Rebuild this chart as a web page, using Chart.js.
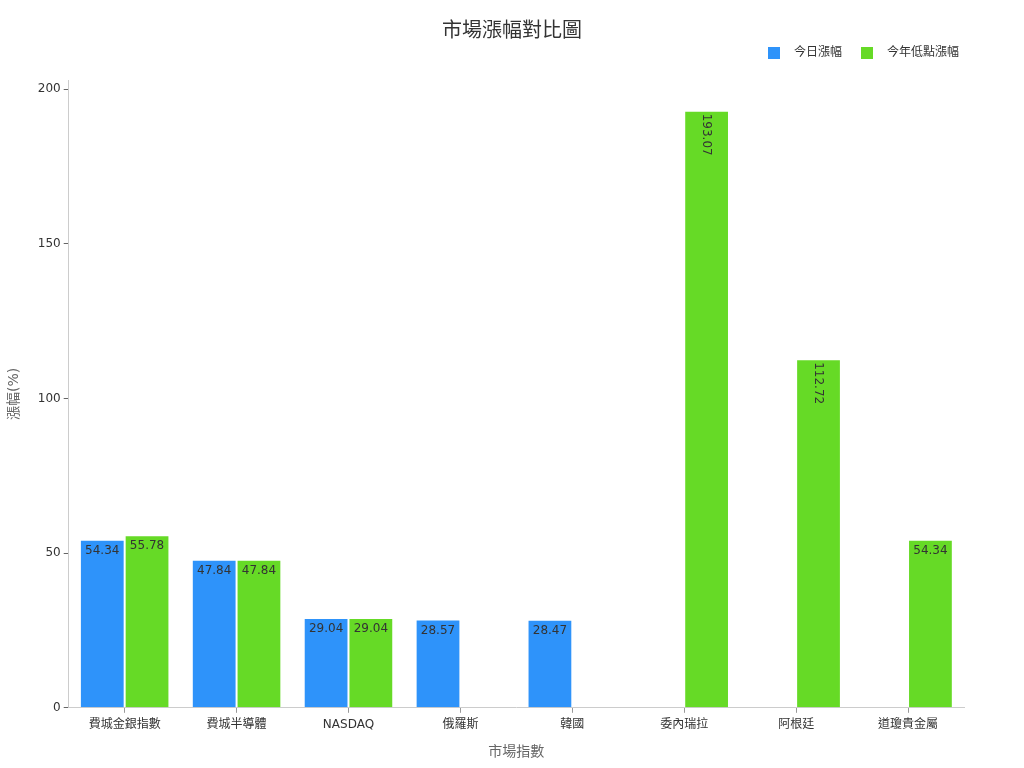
<!DOCTYPE html>
<html>
<head>
<meta charset="utf-8">
<script src="https://cdn.jsdelivr.net/npm/chart.js@4.4.1/dist/chart.umd.min.js"></script>
<style>
  html, body { margin: 0; padding: 0; background: #fff; }
  #wrap { width: 1024px; height: 768px; }
</style>
</head>
<body>
<div id="wrap"><canvas id="myChart" width="1024" height="768"></canvas></div>
<script>
const categories = ["費城金銀指數", "費城半導體", "NASDAQ", "俄羅斯", "韓國", "委內瑞拉", "阿根廷", "道瓊貴金屬"];
const todayGain = [54.34, 47.84, 29.04, 28.57, 28.47, null, null, null];
const yearLowGain = [55.78, 47.84, 29.04, null, null, 193.07, 112.72, 54.34];
const yTicks = [0, 50, 100, 150, 200];
const rotatedLabels = [193.07, 112.72];

const FONT = "'DejaVu Sans', 'Noto Sans CJK TC', sans-serif";

// title centred on the page + legend at top right
const header = {
  id: "header",
  afterDraw(chart) {
    const c = chart.ctx;
    c.save();
    c.fillStyle = "#333";
    c.font = "20px " + FONT;
    c.textAlign = "center";
    c.textBaseline = "middle";
    c.fillText("市場漲幅對比圖", chart.width / 2, 32);

    c.font = "12px " + FONT;
    c.textAlign = "left";
    const xs = [768, 861];
    chart.data.datasets.forEach((ds, i) => {
      c.fillStyle = ds.backgroundColor;
      c.fillRect(xs[i], 47, 12, 12);
      c.fillStyle = "#333";
      c.fillText(ds.label, xs[i] + 26, 53);
    });
    c.restore();
  },
};

// labels drawn inside the top of each bar
const barLabels = {
  id: "barLabels",
  afterDatasetsDraw(chart) {
    const c = chart.ctx;
    c.save();
    c.fillStyle = "#333";
    c.font = "12px " + FONT;
    chart.data.datasets.forEach((ds, i) => {
      chart.getDatasetMeta(i).data.forEach((bar, j) => {
        const v = ds.data[j];
        if (v == null) return;
        const txt = v.toFixed(2);
        if (rotatedLabels.includes(v)) {
          c.save();
          c.translate(bar.x, bar.y + 3);
          c.rotate(Math.PI / 2);
          c.textAlign = "left";
          c.textBaseline = "middle";
          c.fillText(txt, 0, 0);
          c.restore();
        } else {
          c.textAlign = "center";
          c.textBaseline = "top";
          c.fillText(txt, bar.x, bar.y + 5);
        }
      });
    });
    c.restore();
  },
};

new Chart(document.getElementById("myChart"), {
  type: "bar",
  data: {
    labels: categories,
    datasets: [
      {
        label: "今日漲幅",
        data: todayGain,
        backgroundColor: "#2E93FA",
        borderColor: "rgba(255,255,255,0.7)",
        borderWidth: 1,
      },
      {
        label: "今年低點漲幅",
        data: yearLowGain,
        backgroundColor: "#66DA26",
        borderColor: "rgba(255,255,255,0.7)",
        borderWidth: 1,
      },
    ],
  },
  options: {
    responsive: false,
    animation: false,
    categoryPercentage: 0.8,
    barPercentage: 1.0,
    layout: { padding: { left: 2, right: 60, top: 80, bottom: 3 } },
    plugins: {
      title: { display: false },
      legend: { display: false },
      tooltip: { enabled: false },
    },
    scales: {
      x: {
        grid: { display: true, drawOnChartArea: false, drawTicks: true, tickLength: 5, color: "#999", offset: false },
        border: { color: "#ccc" },
        ticks: { color: "#333", font: { size: 12, family: FONT }, padding: 5 },
        title: { display: true, text: "市場指數", color: "#666", font: { size: 14, family: FONT }, padding: { top: 7 } },
      },
      y: {
        min: 0,
        max: 203,
        afterBuildTicks(axis) {
          axis.ticks = yTicks.map((v) => ({ value: v }));
        },
        grid: { display: true, drawOnChartArea: false, drawTicks: true, tickLength: 5, color: "#666" },
        border: { color: "#ccc" },
        ticks: { color: "#333", font: { size: 12, family: FONT }, padding: 3 },
        title: { display: true, text: "漲幅(%)", color: "#666", font: { size: 14, family: FONT }, padding: { bottom: 12 } },
      },
    },
  },
  plugins: [barLabels, header],
});
</script>
</body>
</html>
